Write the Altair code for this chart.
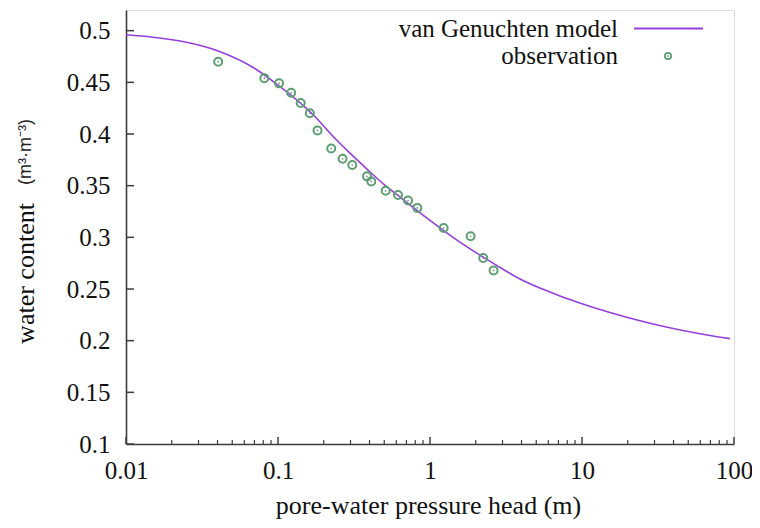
import altair as alt
import pandas as pd

# observations (pressure head in m, water content m3/m3)
obs_h = [0.0404, 0.0813, 0.1016, 0.122, 0.141, 0.162, 0.182, 0.224, 0.266, 0.308,
         0.385, 0.411, 0.511, 0.616, 0.717, 0.825, 1.23, 1.85, 2.24, 2.62]
obs_theta = [0.470, 0.454, 0.449, 0.440, 0.430, 0.420, 0.4035, 0.386, 0.376, 0.370,
             0.359, 0.354, 0.345, 0.341, 0.3356, 0.3285, 0.309, 0.301, 0.280, 0.268]

# van Genuchten model curve
model_h = [0.01, 0.015, 0.025, 0.04, 0.07, 0.1, 0.14, 0.18, 0.224, 0.3, 0.385, 0.5,
           0.616, 0.9, 1.23, 1.6, 2.24, 3.0, 3.91, 5.5, 7.16, 10, 14, 19.7, 28, 42,
           65, 94]
model_theta = [0.496, 0.4937, 0.4888, 0.4806, 0.4636, 0.4473, 0.4301, 0.415, 0.3995,
               0.381, 0.366, 0.351, 0.3405, 0.3216, 0.3065, 0.2946, 0.2808, 0.2694,
               0.2597, 0.2499, 0.2433, 0.2358, 0.2289, 0.2227, 0.2169, 0.2111,
               0.2058, 0.2020]

# axis ticks
y_ticks = [0.1, 0.15, 0.2, 0.25, 0.3, 0.35, 0.4, 0.45, 0.5]
x_major = [0.01, 0.1, 1, 10, 100]
x_minor = [m * d for d in [0.01, 0.1, 1, 10] for m in range(2, 10)]

W, H = 608, 434
SERIF = "Liberation Serif"
LINE_COLOR = "#9440dc"
PT_COLOR = "#5d9f72"
AXIS_COLOR = "#3c3c3c"

obs_df = pd.DataFrame({"h": obs_h, "theta": obs_theta})
model_df = pd.DataFrame({"h": model_h, "theta": model_theta})

xscale = alt.Scale(type="log", domain=[0.01, 100], nice=False)
yscale = alt.Scale(domain=[0.1, 0.52], nice=False, zero=False)

xaxis = alt.Axis(values=x_major, format="~g", tickSize=0, grid=False,
                 domainColor=AXIS_COLOR, domainWidth=1.6,
                 labelFont=SERIF, labelFontSize=25, labelColor="#111",
                 labelBaseline="alphabetic", labelPadding=34, labelFlush=False,
                 title="pore-water pressure head (m)", titleFont=SERIF,
                 titleFontSize=26, titleFontWeight="normal", titleColor="#111",
                 titleBaseline="alphabetic", titleY=69, titleX=302)
yaxis = alt.Axis(values=y_ticks, format=".2~f", tickSize=0, grid=False,
                 domainColor=AXIS_COLOR, domainWidth=1.6,
                 labelFont=SERIF, labelFontSize=25, labelColor="#111",
                 labelPadding=16, labelBaseline="middle",
                 title="water content", titleFont=SERIF, titleFontSize=26,
                 titleFontWeight="normal", titleColor="#111",
                 titleAngle=270, titleBaseline="middle", titleAlign="center",
                 titleX=-101, titleY=263)

curve = alt.Chart(model_df).mark_line(color=LINE_COLOR, strokeWidth=1.6,
                                      interpolate="monotone").encode(
    x=alt.X("h:Q", scale=xscale, axis=xaxis),
    y=alt.Y("theta:Q", scale=yscale, axis=yaxis),
)

points = alt.Chart(obs_df).mark_point(shape="circle", filled=False, size=64,
                                      strokeWidth=2, color=PT_COLOR, opacity=1).encode(
    x=alt.X("h:Q", scale=xscale), y=alt.Y("theta:Q", scale=yscale))
dots = alt.Chart(obs_df).mark_point(shape="circle", filled=True, size=3,
                                    color=PT_COLOR, opacity=1).encode(
    x=alt.X("h:Q", scale=xscale), y=alt.Y("theta:Q", scale=yscale))

# inward ticks
yt = alt.Chart(pd.DataFrame({"v": y_ticks})).mark_rule(color=AXIS_COLOR, strokeWidth=1.5).encode(
    y=alt.Y("v:Q", scale=yscale), x=alt.value(0), x2=alt.value(8))
xt_major = alt.Chart(pd.DataFrame({"v": x_major})).mark_rule(color=AXIS_COLOR, strokeWidth=1.5).encode(
    x=alt.X("v:Q", scale=xscale), y=alt.value(H), y2=alt.value(H - 7))
xt_minor = alt.Chart(pd.DataFrame({"v": x_minor})).mark_rule(color=AXIS_COLOR, strokeWidth=1.2).encode(
    x=alt.X("v:Q", scale=xscale), y=alt.value(H), y2=alt.value(H - 4))

one = pd.DataFrame({"k": [0]})

# units next to the y title
units = alt.Chart(one).mark_text(font="Liberation Sans", fontSize=18, angle=270,
                                 align="center", baseline="middle", color="#222").encode(
    x=alt.value(-100), y=alt.value(142), text=alt.value("(m³·m⁻³)"))

# legend
leg_t1 = alt.Chart(one).mark_text(font=SERIF, fontSize=25, align="right",
                                  baseline="alphabetic", color="#111").encode(
    x=alt.value(492), y=alt.value(26.5), text=alt.value("van Genuchten model"))
leg_t2 = alt.Chart(one).mark_text(font=SERIF, fontSize=25, align="right",
                                  baseline="alphabetic", color="#111").encode(
    x=alt.value(492), y=alt.value(53.5), text=alt.value("observation"))
leg_line = alt.Chart(one).mark_rule(color=LINE_COLOR, strokeWidth=2).encode(
    x=alt.value(508), x2=alt.value(577), y=alt.value(18.5))
leg_pt = alt.Chart(one).mark_point(shape="circle", filled=False, size=40,
                                   strokeWidth=1.8, color=PT_COLOR, opacity=1).encode(
    x=alt.value(542), y=alt.value(46))
leg_dot = alt.Chart(one).mark_point(shape="circle", filled=True, size=3,
                                    color=PT_COLOR, opacity=1).encode(
    x=alt.value(542), y=alt.value(46))

chart = alt.layer(curve, points, dots, yt, xt_major, xt_minor, units,
                  leg_t1, leg_t2, leg_line, leg_pt, leg_dot).properties(
    width=W, height=H,
    autosize=alt.AutoSizeParams(type="none"),
    padding={"left": 118, "top": 2, "right": 18, "bottom": 80},
).configure_view(stroke=None).configure(background="white")

chart.save("out.html", embed_options={"renderer": "svg", "actions": False})
